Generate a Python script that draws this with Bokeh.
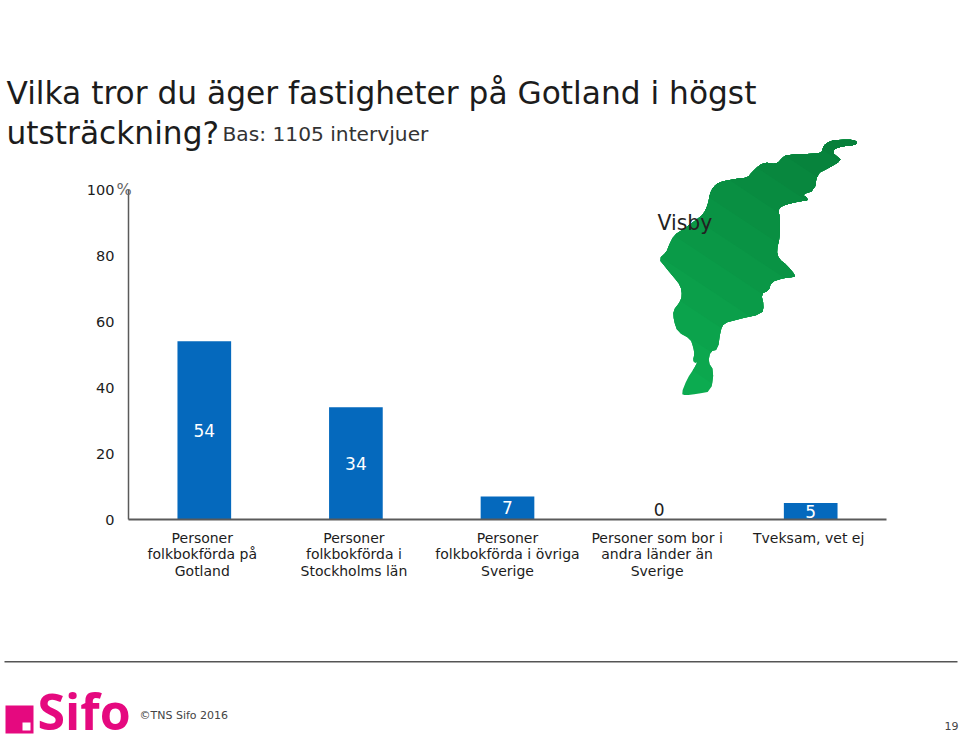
from bokeh.plotting import figure
from bokeh.embed import file_html
from bokeh.resources import INLINE
from bokeh.models import ColumnDataSource, Range1d, FixedTicker
from bokeh.core.properties import value
import numpy as np

categories = ["Personer\nfolkbokförda på\nGotland",
              "Personer\nfolkbokförda i\nStockholms län",
              "Personer\nfolkbokförda i övriga\nSverige",
              "Personer som bor i\nandra länder än\nSverige",
              "Tveksam, vet ej"]
values = [54, 34, 7, 0, 5]
y_ticks = [0, 20, 40, 60, 80, 100]
label_shift_px = [-2, -2, 0, -2, -2]

# island outline
map_x = [650,640,600,575,555,547,545,520,440,425,412,395,375,355,335,320,285,235,218,208,203,190,165,130,100,85,78,55,75,100,120,125,118,98,100,112,150,158,162,157,165,172,160,140,122,135,170,212,220,203,210,232,240,250,290,365,370,362,385,392,430,460,465,440,415,408,418,418,412,435,480,503,498,485,522,530,560,603,590,578,580,610,645]
map_y = [35,28,28,30,40,52,66,70,73,82,98,100,96,105,125,142,145,155,170,190,220,250,270,295,315,345,365,385,410,440,465,495,515,540,570,605,625,650,670,690,698,692,715,745,790,795,790,783,720,695,662,657,600,578,567,550,525,490,480,455,442,440,435,405,385,360,320,260,235,222,212,210,200,192,180,130,115,90,78,68,55,47,43]
map_shades = ["#0cab50", "#0ca74e", "#0ba34c", "#0b9f4a", "#0a9b48", "#0a9746", "#099344", "#098f42", "#088b40", "#08873e", "#07833c", "#077f3a"]

FONT = "DejaVu Sans"
INK = "#1c1c1c"
BLUE = "#0569bd"
PINK = "#e5097f"
W, H = 960, 738
L, R, T, B = 128, 886, 189, 519
px_per_cat = (R - L) / len(categories)

p = figure(width=W, height=H, output_backend="svg", toolbar_location=None,
           x_range=Range1d(0, len(categories)), y_range=Range1d(0, 100),
           min_border_left=L, min_border_right=W - R, min_border_top=T, min_border_bottom=H - B,
           outline_line_color=None, tools="")
p.grid.visible = False
p.background_fill_color = None
p.border_fill_color = None

centers = [i + 0.5 for i in range(len(categories))]
tick_pos = [c + s / px_per_cat for c, s in zip(centers, label_shift_px)]

ya = p.yaxis[0]
ya.ticker = FixedTicker(ticks=y_ticks)
ya.axis_line_color = "#5a5a5a"
ya.axis_line_width = 1.5
ya.major_tick_line_color = None
ya.minor_tick_line_color = None
ya.major_label_standoff = 8
ya.major_label_text_font = FONT
ya.major_label_text_font_size = "14.5px"
ya.major_label_text_color = INK

xa = p.xaxis[0]
xa.ticker = FixedTicker(ticks=tick_pos)
xa.major_label_overrides = {c: t for c, t in zip(tick_pos, categories)}
xa.axis_line_color = "#5a5a5a"
xa.axis_line_width = 2
xa.major_tick_line_color = None
xa.minor_tick_line_color = None
xa.major_label_standoff = 4
xa.major_label_text_font = FONT
xa.major_label_text_font_size = "14px"
xa.major_label_text_color = INK
xa.major_label_text_line_height = 1.05

src = ColumnDataSource(dict(cat=centers, val=values, mid=[v / 2 for v in values],
                            lab=[str(v) for v in values],
                            col=["#ffffff" if v else INK for v in values],
                            off=[0 if v else -10 for v in values]))
p.vbar(x="cat", top="val", width=0.354, bottom=0, source=src, fill_color=BLUE, line_color=None)
p.text(x="cat", y="mid", text="lab", source=src, text_color="col", y_offset="off",
       text_font=value(FONT), text_font_size="17px", text_align="center", text_baseline="middle")

# transparent full-page layer: title, map, footer
q = figure(width=W, height=H, output_backend="svg", toolbar_location=None,
           x_range=Range1d(0, W), y_range=Range1d(H, 0),
           min_border=0, outline_line_color=None, tools="", x_axis_location=None, y_axis_location=None)
q.grid.visible = False
q.background_fill_color = None
q.border_fill_color = None
q.styles = {"position": "absolute", "left": "0px", "top": "0px"}

mx = 640 + np.array(map_x, float) / 3
my = 130 + np.array(map_y, float) / 3

# round the traced corners a little
def round_corners(a):
    nxt = np.roll(a, -1)
    return np.column_stack([0.75 * a + 0.25 * nxt, 0.25 * a + 0.75 * nxt]).ravel()

mx, my = round_corners(mx), round_corners(my)

def clip(x, y, d, c):
    ox, oy = [], []
    n = len(x)
    for i in range(n):
        j = (i + 1) % n
        da, db = d[i] - c, d[j] - c
        if da >= 0:
            ox.append(x[i]); oy.append(y[i])
        if (da >= 0) != (db >= 0):
            t = da / (da - db)
            ox.append(x[i] + t * (x[j] - x[i])); oy.append(y[i] + t * (y[j] - y[i]))
    return ox, oy

proj = mx * 0.55 - my * 0.83
lo, hi = proj.min(), proj.max()
for i, col in enumerate(map_shades):
    xs, ys = clip(mx, my, proj, lo + (hi - lo) * i / len(map_shades))
    q.patch(xs, ys, fill_color=col, line_color=None)

def label(x, base, text, size, color=INK, font=FONT, style="normal"):
    q.text([x], [base - 0.36 * size], text=[text], text_font=value(font), text_font_size=f"{size}px",
           text_color=color, text_font_style=style, text_baseline="middle", text_align="left")

def box(l, r, t, b, color):
    q.quad(left=[l], right=[r], top=[t], bottom=[b], fill_color=color, line_color=None)

label(6, 104, "Vilka tror du äger fastigheter på Gotland i högst", 31.25)
label(6, 144, "utsträckning?", 31.25)
label(222, 141, "Bas: 1105 intervjuer", 20.2, color="#333333")
label(116, 195, "%", 16, color="#666666")
label(657, 230, "Visby", 20.4, color="#222222")

box(4, 957, 660.5, 662, "#555555")
box(5, 33, 705, 733, PINK)
box(22, 30, 722, 730, "#ffffff")
label(37, 728, "Sifo", 50, color=PINK, font="Open Sans", style="bold")
label(139, 719, "©TNS Sifo 2016", 11, color="#444444")
label(944, 729, "19", 11, color="#444444")

open("out.html", "w").write(file_html((p, q), INLINE))
